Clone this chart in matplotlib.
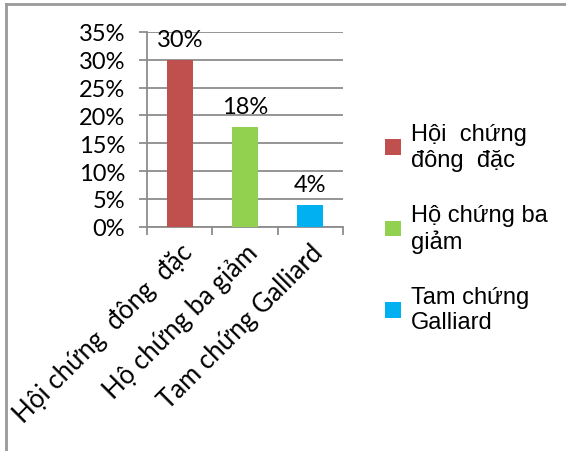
import matplotlib.pyplot as plt
from matplotlib.lines import Line2D
from matplotlib.ticker import FixedLocator, PercentFormatter

categories = ['Hội chứng  đông  đặc', 'Hộ chứng ba giảm', 'Tam chứng Galliard']
legend_labels = ['Hội  chứng\nđông  đặc', 'Hộ chứng ba\ngiảm', 'Tam chứng\nGalliard']
values = [30, 18, 4]
colors = ['#C0504D', '#92D050', '#00B0F0']
yticks = [0, 5, 10, 15, 20, 25, 30, 35]

plt.rcParams['font.family'] = ['Lato', 'DejaVu Sans']
grid_col = '#8C8C8C'

fig = plt.figure(figsize=(5.66, 4.52), dpi=100)
ax = fig.add_axes([0.26, 0.496, 0.346, 0.431])

xs = list(range(len(values)))
bars = ax.bar(xs, values, width=0.4, color=colors, zorder=3)

for x, v in zip(xs, values):
    ax.annotate(f'{v}%', (x, v), xytext=(0, 7), textcoords='offset points',
                ha='center', va='bottom', fontsize=17)

ax.set_xlim(-0.5, 2.5)
ax.set_ylim(0, 35)
ax.set_yticks(yticks)
ax.yaxis.set_major_formatter(PercentFormatter(decimals=0))
ax.grid(axis='y', color=grid_col, linewidth=1.3, zorder=0)
ax.tick_params(axis='y', length=6, width=1.3, color=grid_col, labelsize=17, pad=10)

ax.set_xticks(xs)
ax.set_xticklabels(categories, rotation=45, ha='right', rotation_mode='anchor', fontsize=18.5)
ax.tick_params(axis='x', which='major', length=0, pad=9)
ax.xaxis.set_minor_locator(FixedLocator([-0.5, 0.5, 1.5, 2.5]))
ax.tick_params(axis='x', which='minor', length=6, width=1.3, color=grid_col)

for s in ['top', 'right']:
    ax.spines[s].set_visible(False)
for s in ['left', 'bottom']:
    ax.spines[s].set_color(grid_col)
    ax.spines[s].set_linewidth(1.3)

fig.legend(bars, legend_labels, loc='upper left', bbox_to_anchor=(0.643, 0.772),
           frameon=False, handlelength=0.65, handleheight=0.65,
           handletextpad=0.45, labelspacing=1.4,
           prop={'family': ['Liberation Sans', 'DejaVu Sans'], 'size': 17})

# outer frame (only top and left edges show in the reference)
fig.add_artist(Line2D([0.011, 0.011], [0, 0.989], transform=fig.transFigure, color='#999999', linewidth=2))
fig.add_artist(Line2D([0.011, 1], [0.989, 0.989], transform=fig.transFigure, color='#999999', linewidth=2))

fig.savefig('out.png', dpi=100)
